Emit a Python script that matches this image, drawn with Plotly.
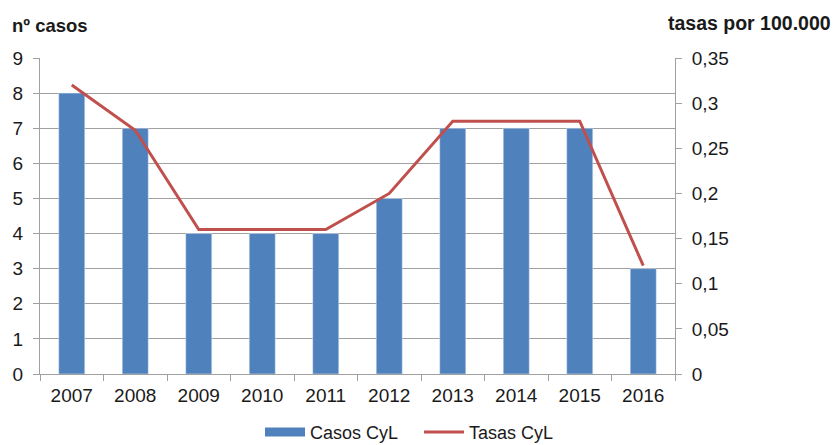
import plotly.graph_objects as go

years = ["2007", "2008", "2009", "2010", "2011", "2012", "2013", "2014", "2015", "2016"]
casos = [8, 7, 4, 4, 4, 5, 7, 7, 7, 3]
tasas = [0.32, 0.27, 0.16, 0.16, 0.16, 0.20, 0.28, 0.28, 0.28, 0.12]

FONT = "Liberation Sans, Arial, sans-serif"
GRID = "#A0A0A0"
BLUE = "#4F81BD"
RED = "#C0504D"

# the page body has an 8px margin, so margins are compensated
fig = go.Figure()
fig.add_trace(go.Bar(x=years, y=casos, name="Casos CyL", marker_color=BLUE,
                     width=0.41, yaxis="y", showlegend=False))
# legend-only entry giving the wide rectangular swatch of the bars
fig.add_trace(go.Scatter(x=[None], y=[None], name="Casos CyL", mode="lines",
                         line=dict(color=BLUE, width=9), yaxis="y", showlegend=True))
fig.add_trace(go.Scatter(x=years, y=tasas, name="Tasas CyL", mode="lines",
                         line=dict(color=RED, width=3), yaxis="y2"))

fig.update_layout(
    width=840, height=445,
    margin=dict(l=32, r=173, t=50, b=79, autoexpand=False),
    paper_bgcolor="white", plot_bgcolor="white",
    separators=",.",
    font=dict(family=FONT, size=19, color="#1a1a1a"),
    showlegend=True,
    legend=dict(orientation="h", xref="container", yref="container",
                x=0.3, y=0.005, xanchor="left", yanchor="bottom",
                font=dict(size=18), traceorder="normal", itemwidth=40,
                entrywidth=104, entrywidthmode="pixels"),
    xaxis=dict(type="category", showgrid=False, showline=True, linecolor=GRID,
               ticks="outside", tickson="boundaries", ticklen=6, tickcolor=GRID,
               tickfont=dict(size=19), ticklabelstandoff=4),
    yaxis=dict(range=[0, 9], dtick=1, showgrid=True, gridcolor=GRID, gridwidth=1,
               showline=True, linecolor=GRID, ticks="outside", ticklen=6, tickcolor=GRID,
               zeroline=False, tickfont=dict(size=19), ticklabelstandoff=6),
    yaxis2=dict(range=[0, 0.35], dtick=0.05, overlaying="y", side="right",
                showgrid=False, showline=True, linecolor=GRID, ticks="outside",
                ticklen=6, tickcolor=GRID, zeroline=False, tickfont=dict(size=19),
                ticklabelstandoff=6),
    annotations=[
        dict(text="<b>nº casos</b>", xref="paper", yref="paper", x=-0.047, y=1.104,
             xanchor="left", yanchor="middle", showarrow=False,
             font=dict(size=18.5, family=FONT)),
        dict(text="<b>tasas por 100.000</b>", xref="paper", yref="paper", x=1.249, y=1.111,
             xanchor="right", yanchor="middle", showarrow=False,
             font=dict(size=19.5, family=FONT)),
    ],
)

fig.write_html("out.html")
